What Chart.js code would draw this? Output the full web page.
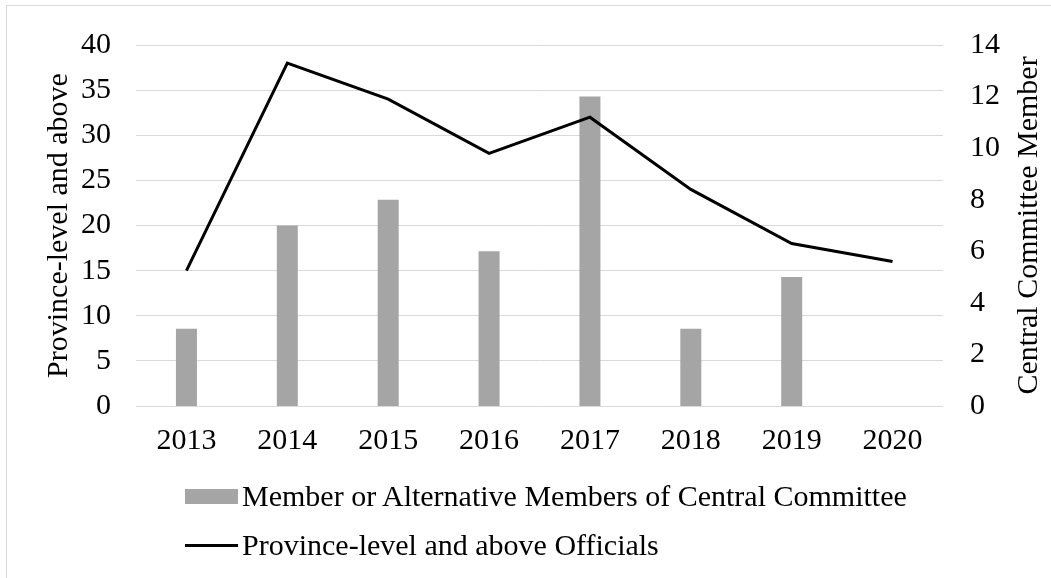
<!DOCTYPE html>
<html>
<head>
<meta charset="utf-8">
<script src="https://cdn.jsdelivr.net/npm/chart.js@4.4.1/dist/chart.umd.min.js"></script>
<style>
  html, body { margin: 0; padding: 0; background: #ffffff; }
  #wrap { position: relative; width: 1051px; height: 578px; overflow: hidden; }
  #c { position: absolute; left: 0; top: 0; }
  .lg { position: absolute; left: 185px; font-family: "Liberation Serif", "Times New Roman", serif; font-size: 30px; color: #000; white-space: nowrap; display: flex; align-items: center; }
  .sw { display: inline-block; width: 53px; margin-right: 4px; }
</style>
</head>
<body>
<div id="wrap">
  <canvas id="c" width="1051" height="578"></canvas>
  <div id="legend"></div>
</div>
<script>
const categories = ['2013', '2014', '2015', '2016', '2017', '2018', '2019', '2020'];
const centralCommitteeMembers = [3, 7, 8, 6, 12, 3, 5, 0];
const provinceLevelOfficials = [15, 38, 34, 28, 32, 24, 18, 16];
const leftAxisTicks = [0, 5, 10, 15, 20, 25, 30, 35, 40];
const rightAxisTicks = [0, 2, 4, 6, 8, 10, 12, 14];
const seriesLabels = ['Member or Alternative Members of Central Committee', 'Province-level and above Officials'];
const leftAxisTitle = 'Province-level and above';
const rightAxisTitle = 'Central Committee Member';

const FONT = '"Liberation Serif", "Times New Roman", serif';
const tickFont = { family: FONT, size: 30 };

const framePlugin = {
  id: 'frame',
  beforeDraw(chart) {
    const ctx = chart.ctx;
    ctx.save();
    ctx.fillStyle = '#ffffff';
    ctx.fillRect(0, 0, chart.width, chart.height);
    ctx.strokeStyle = '#d9d9d9';
    ctx.lineWidth = 1;
    ctx.strokeRect(6.5, 5.5, 1200, 1000);
    ctx.restore();
  },
  afterDraw(chart) {
    const ctx = chart.ctx;
    const ca = chart.chartArea;
    const cy = (ca.top + ca.bottom) / 2;
    ctx.save();
    ctx.fillStyle = '#000000';
    ctx.font = '30px ' + FONT;
    ctx.textAlign = 'center';
    ctx.textBaseline = 'alphabetic';
    [[67, leftAxisTitle], [1037, rightAxisTitle]].forEach(([x, t]) => {
      ctx.save();
      ctx.translate(x, cy);
      ctx.rotate(-Math.PI / 2);
      ctx.fillText(t, 0, 0);
      ctx.restore();
    });
    ctx.restore();
  }
};

const chart = new Chart(document.getElementById('c'), {
  data: {
    labels: categories,
    datasets: [
      {
        type: 'line',
        label: seriesLabels[1],
        data: provinceLevelOfficials,
        yAxisID: 'yL',
        borderColor: '#000000',
        backgroundColor: '#000000',
        borderWidth: 3,
        pointRadius: 0,
        tension: 0,
        order: 0
      },
      {
        type: 'bar',
        label: seriesLabels[0],
        data: centralCommitteeMembers,
        yAxisID: 'yR',
        backgroundColor: '#a5a5a5',
        borderWidth: 0,
        inflateAmount: 0,
        barThickness: 21,
        order: 1
      }
    ]
  },
  options: {
    responsive: false,
    animation: false,
    devicePixelRatio: 1,
    layout: { padding: { top: 43, left: 0, right: 0, bottom: 0 } },
    plugins: { legend: { display: false }, tooltip: { enabled: false } },
    scales: {
      x: {
        grid: { display: false },
        border: { display: false },
        ticks: { font: tickFont, color: '#000000', padding: 9, maxRotation: 0 },
        afterFit(s) { s.height = 172; }
      },
      yL: {
        position: 'left',
        min: 0, max: 40,
        afterBuildTicks(s) { s.ticks = leftAxisTicks.map(v => ({ value: v })); },
        grid: { color: '#d9d9d9', lineWidth: 1, drawTicks: false },
        border: { display: false },
        ticks: { font: tickFont, color: '#000000', padding: 25 },
        afterFit(s) { s.width = 136; }
      },
      yR: {
        position: 'right',
        min: 0, max: 14,
        afterBuildTicks(s) { s.ticks = rightAxisTicks.map(v => ({ value: v })); },
        grid: { display: false, drawTicks: false },
        border: { display: false },
        ticks: { font: tickFont, color: '#000000', padding: 27 },
        afterFit(s) { s.width = 108; }
      }
    }
  },
  plugins: [framePlugin]
});

// HTML legend built from the chart's datasets
const legend = document.getElementById('legend');
const rows = [
  { ds: chart.data.datasets[1], top: 478, kind: 'bar' },
  { ds: chart.data.datasets[0], top: 527, kind: 'line' }
];
rows.forEach(r => {
  const d = document.createElement('div');
  d.className = 'lg';
  d.style.top = r.top + 'px';
  d.style.height = '36px';
  const sw = document.createElement('span');
  sw.className = 'sw';
  if (r.kind === 'bar') { sw.style.height = '15px'; sw.style.background = r.ds.backgroundColor; }
  else { sw.style.height = '3px'; sw.style.background = r.ds.borderColor; }
  const t = document.createElement('span');
  t.textContent = r.ds.label;
  d.appendChild(sw); d.appendChild(t);
  legend.appendChild(d);
});
</script>
</body>
</html>
